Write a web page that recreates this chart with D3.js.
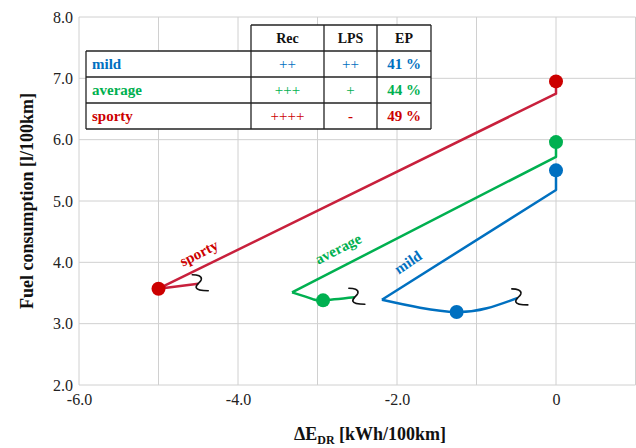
<!DOCTYPE html>
<html><head><meta charset="utf-8">
<script src="https://cdn.jsdelivr.net/npm/d3@7"></script>
<style>body{margin:0;background:#fff}svg{display:block}svg text{font-family:'Liberation Serif','Times New Roman',Times,'DejaVu Serif',serif !important}</style>
</head><body><svg id="c" width="636" height="448" font-family="Liberation Serif, Times New Roman, serif"></svg>
<script>
// ---- data ----
const xTicks = [-6, -4, -2, 0];
const xTickLabels = ["-6.0", "-4.0", "-2.0", "0"];
const yTicks = [2, 3, 4, 5, 6, 7, 8];
const seriesNames = ["mild", "average", "sporty"];
// straight part: marker -> vertical drop -> diagonal to vertex
const mildStraightX = [0, 0, -2.19];
const mildStraightY = [5.5, 5.18, 3.39];
const mildCurveX = [-2.19, -1.71, -1.25, -0.87, -0.48];
const mildCurveY = [3.39, 3.26, 3.19, 3.25, 3.42];
const avgStraightX = [0, 0, -3.32];
const avgStraightY = [5.96, 5.72, 3.51];
const avgCurveX = [-3.32, -3.06, -2.93, -2.53];
const avgCurveY = [3.51, 3.40, 3.38, 3.43];
const sportyStraightX = [0, 0, -5.0, -4.5];
const sportyStraightY = [6.95, 6.75, 3.57, 3.65];
const sportyCurveX = [];
const sportyCurveY = [];
const markerX = {mild: [0, -1.25], average: [0, -2.93], sporty: [0, -5.0]};
const markerY = {mild: [5.5, 3.19], average: [5.96, 3.38], sporty: [6.95, 3.57]};
const labelPos = {mild: [-1.86, 4.0, -34], average: [-2.74, 4.22, -27], sporty: [-4.49, 4.15, -27]};
const tableHeader = ["Rec", "LPS", "EP"];
const recVals = ["++", "+++", "++++"];
const lpsVals = ["++", "+", "-"];
const epVals = ["41 %", "44 %", "49 %"];
const lineColors = {mild: "#0070c0", average: "#00b050", sporty: "#c8203c"};
const markColors = {mild: "#0070c0", average: "#00b050", sporty: "#cc0000"};

// ---- chart ----
const FONT = "Liberation Serif, Times New Roman, serif";
const svg = d3.select("#c");
const L = 79, R = 635.5, T = 17, B = 385;
const x = d3.scaleLinear().domain([-6, 1]).range([L, R]);
const y = d3.scaleLinear().domain([2, 8]).range([B, T]);

const grid = svg.append("g");
d3.range(-6, 2).forEach(v => grid.append("line").attr("x1", x(v)).attr("x2", x(v)).attr("y1", T).attr("y2", B)
  .attr("stroke", "#d0d0d0").attr("stroke-width", 1));
yTicks.forEach(v => grid.append("line").attr("x1", L).attr("x2", R).attr("y1", y(v)).attr("y2", y(v))
  .attr("stroke", "#d0d0d0").attr("stroke-width", 1));

const xAxis = svg.append("g").attr("transform", `translate(0,${B})`)
  .call(d3.axisBottom(x).tickValues(xTicks).tickFormat((d, i) => xTickLabels[i]).tickSize(0).tickPadding(9));
xAxis.attr("font-family", FONT);
xAxis.select(".domain").remove();
xAxis.selectAll("text").attr("font-size", 16).attr("fill", "#222");
const yAxis = svg.append("g").attr("transform", `translate(${L},0)`)
  .call(d3.axisLeft(y).tickValues(yTicks).tickFormat(d3.format(".1f")).tickSize(0).tickPadding(6));
yAxis.attr("font-family", FONT);
yAxis.select(".domain").remove();
yAxis.selectAll("text").attr("font-size", 16).attr("fill", "#222");

// axis titles
svg.append("text").attr("transform", "translate(33,201) rotate(-90)").attr("text-anchor", "middle")
  .attr("font-weight", "bold").attr("font-size", 18).attr("fill", "#111").text("Fuel consumption [l/100km]");
const xt = svg.append("text").attr("x", 370).attr("y", 440).attr("text-anchor", "middle")
  .attr("font-weight", "bold").attr("font-size", 18).attr("fill", "#111");
xt.append("tspan").text("ΔE");
xt.append("tspan").attr("font-size", 12).attr("dy", 4).text("DR");
xt.append("tspan").attr("dy", -4).text(" [kWh/100km]");

const data = {
  mild: {sx: mildStraightX, sy: mildStraightY, cx: mildCurveX, cy: mildCurveY},
  average: {sx: avgStraightX, sy: avgStraightY, cx: avgCurveX, cy: avgCurveY},
  sporty: {sx: sportyStraightX, sy: sportyStraightY, cx: sportyCurveX, cy: sportyCurveY}
};
const lineLin = d3.line().x(d => x(d[0])).y(d => y(d[1]));
const lineCurve = d3.line().x(d => x(d[0])).y(d => y(d[1])).curve(d3.curveNatural);
const squiggle = "M -6,-9 C -1,-9 4,-8 3,-4 C 2,-1 -3,1 -2,4 C -1,7 5,7 10,7";

seriesNames.forEach(n => {
  const s = data[n];
  const sp = s.sx.map((v, i) => [v, s.sy[i]]);
  svg.append("path").attr("d", lineLin(sp)).attr("fill", "none").attr("stroke", lineColors[n])
    .attr("stroke-width", 2.5).attr("stroke-linejoin", "round");
  let end = sp[sp.length - 1];
  if (s.cx.length) {
    const cp = s.cx.map((v, i) => [v, s.cy[i]]);
    svg.append("path").attr("d", lineCurve(cp)).attr("fill", "none").attr("stroke", lineColors[n])
      .attr("stroke-width", 2.5);
    end = cp[cp.length - 1];
  }
  svg.append("path").attr("d", squiggle).attr("transform", `translate(${x(end[0])},${y(end[1])})`)
    .attr("fill", "none").attr("stroke", "#111").attr("stroke-width", 1.6).attr("stroke-linecap", "round");
  markerX[n].forEach((mx, i) => svg.append("circle").attr("cx", x(mx)).attr("cy", y(markerY[n][i]))
    .attr("r", 7).attr("fill", markColors[n]));
  const lp = labelPos[n];
  svg.append("text").attr("transform", `translate(${x(lp[0])},${y(lp[1])}) rotate(${lp[2]})`)
    .attr("text-anchor", "middle").attr("dominant-baseline", "central").attr("font-weight", "bold")
    .attr("font-size", 15).attr("fill", markColors[n]).text(n);
});

// ---- table ----
const tb = svg.append("g");
const colX = [86, 251, 324, 377, 431];
const rowY = [25, 51, 77, 103, 129];
tb.append("rect").attr("x", colX[1]).attr("y", rowY[0]).attr("width", colX[4] - colX[1]).attr("height", rowY[1] - rowY[0]).attr("fill", "#fff");
tb.append("rect").attr("x", colX[0]).attr("y", rowY[1]).attr("width", colX[4] - colX[0]).attr("height", rowY[4] - rowY[1]).attr("fill", "#fff");
const ln = (x1, y1, x2, y2) => tb.append("line").attr("x1", x1).attr("y1", y1).attr("x2", x2).attr("y2", y2)
  .attr("stroke", "#222").attr("stroke-width", 1.3);
ln(colX[1], rowY[0], colX[4], rowY[0]);
for (let r = 1; r <= 4; r++) ln(colX[0], rowY[r], colX[4], rowY[r]);
ln(colX[0], rowY[1], colX[0], rowY[4]);
for (let c = 1; c <= 4; c++) ln(colX[c], rowY[0], colX[c], rowY[4]);
tableHeader.forEach((h, i) => tb.append("text").attr("x", (colX[i + 1] + colX[i + 2]) / 2).attr("y", (rowY[0] + rowY[1]) / 2)
  .attr("text-anchor", "middle").attr("dominant-baseline", "central").attr("font-weight", "bold").attr("font-size", 14)
  .attr("fill", "#111").text(h));
seriesNames.forEach((n, r) => {
  const cy = (rowY[r + 1] + rowY[r + 2]) / 2;
  const col = markColors[n];
  tb.append("text").attr("x", colX[0] + 6).attr("y", cy).attr("dominant-baseline", "central")
    .attr("font-weight", "bold").attr("font-size", 15).attr("fill", col).text(n);
  tb.append("text").attr("x", (colX[1] + colX[2]) / 2).attr("y", cy).attr("text-anchor", "middle").attr("dominant-baseline", "central")
    .attr("font-size", 15).attr("fill", col).text(recVals[r]);
  tb.append("text").attr("x", (colX[2] + colX[3]) / 2).attr("y", cy).attr("text-anchor", "middle").attr("dominant-baseline", "central")
    .attr("font-size", 15).attr("font-weight", lpsVals[r] === "-" ? "bold" : "normal").attr("fill", col).text(lpsVals[r]);
  tb.append("text").attr("x", (colX[3] + colX[4]) / 2).attr("y", cy).attr("text-anchor", "middle").attr("dominant-baseline", "central")
    .attr("font-weight", "bold").attr("font-size", 15).attr("fill", col).text(epVals[r]);
});
</script></body></html>
